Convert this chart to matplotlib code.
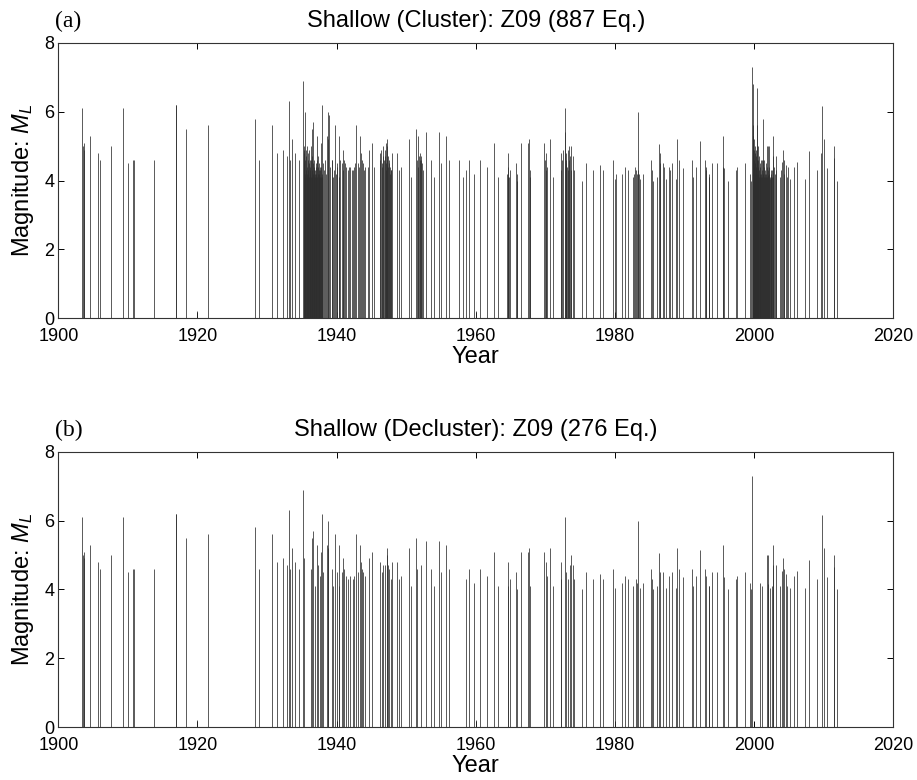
import matplotlib
matplotlib.use('Agg')
import matplotlib.pyplot as plt

plt.rcParams['font.family'] = ['Liberation Sans', 'DejaVu Sans']
plt.rcParams['mathtext.fontset'] = 'custom'
plt.rcParams['mathtext.it'] = 'Liberation Sans:italic'
plt.rcParams['mathtext.rm'] = 'Liberation Sans'

# Declustered catalogue (main shocks): year, magnitude M_L
decl_year = [1903.36, 1903.60, 1903.69, 1903.74, 1904.56, 1905.71, 1906.04, 1907.53, 1909.25, 1910.06,
             1910.78, 1910.88, 1913.75, 1916.87, 1916.97, 1918.31, 1919.89, 1921.56, 1928.22, 1928.89,
             1930.76, 1931.38, 1932.34, 1932.82, 1933.20, 1933.30, 1933.54, 1934.07, 1934.59,
             1935.21, 1935.30, 1936.32, 1936.51, 1936.60, 1936.89, 1937.13, 1937.27, 1937.61, 1937.75,
             1937.85, 1938.09, 1938.62, 1938.71, 1938.81, 1939.29, 1939.43, 1939.77, 1940.01, 1940.29,
             1940.39, 1940.72, 1940.96, 1941.11, 1941.35, 1941.64, 1941.92, 1942.30, 1942.50, 1942.79,
             1943.02, 1943.36, 1943.46, 1943.60, 1943.84, 1944.08, 1944.70, 1945.13, 1946.23, 1946.47,
             1946.71, 1946.95, 1947.19, 1947.29, 1947.43, 1947.57, 1947.77, 1947.91, 1948.63, 1949.01,
             1949.20, 1950.36, 1950.69, 1951.41, 1951.51, 1952.08, 1952.80, 1953.52, 1954.05, 1954.76,
             1955.00, 1955.72, 1956.15, 1958.60, 1958.98, 1959.79, 1959.98, 1960.61, 1961.57, 1962.57,
             1963.15, 1964.59, 1964.68, 1964.92, 1965.78, 1965.97,
             1966.45, 1967.46, 1967.70, 1967.79, 1969.85, 1970.09, 1970.28, 1970.67, 1971.15, 1972.20,
             1972.25, 1972.82, 1972.97, 1973.21, 1973.54, 1973.64, 1973.93, 1974.12, 1975.22, 1975.84,
             1976.85, 1977.85, 1978.33, 1979.77, 1980.06, 1980.97, 1981.50, 1981.93, 1982.65, 1982.98,
             1983.12, 1983.36, 1983.60, 1983.99, 1985.19, 1985.28, 1985.52, 1986.05, 1986.34, 1986.48,
             1986.96, 1987.29, 1987.82, 1988.16, 1988.73, 1988.97, 1989.16, 1989.74, 1991.13, 1991.27,
             1991.70, 1992.28, 1993.00, 1993.09, 1993.48, 1993.58, 1993.91, 1994.72, 1995.49, 1995.63,
             1996.26, 1997.36, 1997.60,
             1998.69, 1999.41, 1999.55, 1999.75, 2000.85, 2001.18, 2001.81, 2001.95, 2002.05, 2002.29,
             2002.53, 2002.67, 2002.77, 2003.10, 2003.72, 2003.96, 2004.20, 2004.35, 2004.54, 2004.68,
             2005.16, 2005.74, 2006.12, 2007.32, 2007.94, 2009.09, 2009.81, 2010.10, 2010.43, 2011.44,
             2011.53, 2011.87]
decl_mag = [6.1, 5.0, 4.9, 5.1, 5.3, 4.8, 4.6, 5.0, 6.1, 4.5,
            4.6, 4.6, 4.6, 6.2, 6.2, 5.5, 0.2, 5.6, 5.8, 4.6,
            5.6, 4.8, 4.9, 4.7, 6.3, 4.6, 5.2, 4.8, 4.6,
            6.9, 4.9, 4.6, 5.5, 5.7, 4.1, 5.3, 4.7, 4.4, 5.1,
            6.2, 4.5, 5.3, 6.0, 5.2, 4.6, 4.1, 5.6, 4.5, 5.3,
            4.1, 4.5, 4.9, 4.6, 4.4, 4.3, 4.4, 4.3, 4.4, 5.6,
            4.5, 5.3, 4.8, 4.6, 4.5, 4.4, 4.9, 5.1, 4.8, 4.5,
            4.7, 4.7, 5.2, 5.0, 4.7, 4.6, 4.3, 4.8, 4.8, 4.3,
            4.4, 5.2, 4.1, 5.5, 4.6, 4.7, 5.4, 4.6, 4.1, 5.4,
            4.5, 5.3, 4.6, 4.3, 4.6, 4.2, 0.2, 4.6, 4.4, 5.1,
            4.1, 4.8, 4.1, 4.3, 4.5, 4.0,
            5.1, 5.1, 5.2, 4.1, 5.1, 4.8, 4.4, 5.2, 4.1, 4.8,
            4.3, 6.1, 4.5, 4.3, 4.7, 5.0, 4.7, 4.3, 4.0, 4.5,
            4.3, 4.45, 4.3, 4.6, 4.05, 4.2, 4.4, 4.3, 4.1, 4.3,
            4.2, 6.0, 4.05, 4.2, 4.6, 4.3, 4.0, 4.1, 5.05, 4.5,
            4.5, 4.05, 4.4, 4.5, 4.05, 5.2, 4.6, 4.35, 4.6, 4.1,
            4.4, 5.15, 4.6, 4.4, 4.1, 4.1, 4.5, 4.5, 5.3, 4.35,
            4.0, 4.3, 4.4,
            4.5, 4.2, 4.0, 7.3, 4.2, 4.1, 5.0, 5.0, 4.15, 4.05,
            4.1, 5.3, 4.7, 4.7, 4.1, 4.55, 4.9, 4.6, 4.45, 4.1,
            4.05, 4.4, 4.55, 4.05, 4.85, 4.3, 6.15, 5.2, 4.35, 4.65,
            5.0, 4.0]

# Clustered events (fore/aftershocks) removed by declustering
aft_year = [1935.24, 1935.27, 1935.32, 1935.36, 1935.40, 1935.45, 1935.48, 1935.52, 1935.56, 1935.60,
            1935.63, 1935.67, 1935.71, 1935.75, 1935.79, 1935.83, 1935.87, 1935.91, 1935.95, 1935.99,
            1936.03, 1936.07, 1936.11, 1936.15, 1936.19, 1936.23, 1936.27, 1936.36, 1936.40, 1936.44,
            1936.48, 1936.55, 1936.64, 1936.68, 1936.72, 1936.76, 1936.80, 1936.84, 1936.93, 1936.97,
            1937.01, 1937.05, 1937.09, 1937.17, 1937.21, 1937.31, 1937.35, 1937.40, 1937.44, 1937.48,
            1937.52, 1937.56, 1937.66, 1937.70, 1937.80, 1937.90, 1937.95,
            1938.20, 1938.35, 1938.50, 1938.85, 1939.05, 1939.35, 1939.65, 1939.90,
            1940.10, 1940.48, 1940.85, 1941.20, 1941.75, 1942.15, 1942.65, 1943.25, 1943.95, 1944.45,
            1945.30,
            1946.30, 1946.40, 1946.55, 1946.62, 1946.80, 1946.88, 1947.02, 1947.08, 1947.14, 1947.24,
            1947.35, 1947.50, 1947.65, 1947.72, 1947.85,
            1951.65, 1951.74, 1951.85, 1951.95, 1952.02, 1952.15, 1952.25, 1952.35,
            1957.59, 1958.21, 1964.50, 1964.63, 1964.75, 1965.85,
            1967.75, 1969.95, 1970.02, 1972.35, 1972.55, 1972.88, 1972.92, 1973.02, 1973.10, 1973.28,
            1973.35, 1973.45, 1973.72, 1980.12, 1982.75, 1982.85, 1983.25, 1983.45, 1986.40, 1987.05,
            1987.90, 1993.05, 1993.55, 1995.55,
            1999.76, 1999.78, 1999.79, 1999.80, 1999.81, 1999.82, 1999.84, 1999.86, 1999.88, 1999.90,
            1999.92, 1999.94, 1999.96, 1999.98, 2000.00, 2000.03, 2000.06, 2000.09, 2000.12, 2000.15,
            2000.18, 2000.21, 2000.24, 2000.27, 2000.30, 2000.33, 2000.37, 2000.40, 2000.44, 2000.47,
            2000.50, 2000.54, 2000.58, 2000.62, 2000.66, 2000.70, 2000.74, 2000.78, 2000.82, 2000.90,
            2000.95, 2001.00, 2001.05, 2001.10, 2001.14, 2001.22, 2001.26, 2001.30, 2001.35, 2001.40,
            2001.45, 2001.50, 2001.55, 2001.60, 2001.65, 2001.70, 2001.75, 2001.86, 2001.90, 2002.00,
            2002.10, 2002.15, 2002.20, 2002.25, 2002.35, 2002.40, 2002.45, 2002.60, 2002.72, 2002.85,
            2003.00, 2003.20,
            2003.85, 2004.28, 2004.80, 2009.57]
aft_mag = [5.0, 4.5, 4.3, 4.8, 4.2, 6.0, 4.6, 4.1, 4.9, 4.3,
           4.7, 4.2, 5.0, 4.4, 4.1, 4.6, 4.3, 4.8, 4.2, 4.5,
           4.1, 4.9, 4.3, 4.6, 4.2, 4.4, 5.0, 4.1, 4.7, 4.3,
           4.1, 4.5, 4.2, 4.4, 4.1, 4.3, 4.6, 4.2, 4.3, 4.1,
           4.5, 4.2, 4.4, 4.1, 4.6, 4.2, 4.4, 4.1, 4.3, 4.5,
           4.2, 4.1, 4.3, 4.1, 4.4, 4.2, 4.1,
           4.3, 4.6, 4.2, 5.9, 4.4, 4.6, 4.3, 4.2,
           4.4, 4.6, 4.3, 4.5, 4.4, 4.3, 4.5, 4.4, 4.3, 4.4,
           4.4,
           4.6, 4.9, 4.4, 5.0, 4.6, 4.9, 4.5, 5.1, 4.3, 4.6,
           4.4, 4.5, 4.2, 4.4, 4.3,
           4.4, 5.3, 4.7, 4.6, 4.8, 4.6, 4.5, 4.3,
           4.6, 4.1, 4.2, 4.4, 4.1, 4.2,
           4.3, 4.6, 4.3, 4.6, 4.9, 5.4, 4.6, 4.8, 4.4, 4.9,
           4.6, 5.0, 4.3, 4.2, 4.2, 4.4, 4.3, 4.2, 4.8, 4.4,
           4.3, 4.3, 4.2, 4.4,
           6.8, 5.3, 4.8, 5.6, 4.5, 5.1, 4.3, 5.3, 4.7, 5.0,
           4.4, 4.9, 4.2, 5.2, 4.6, 4.3, 4.8, 4.1, 4.5, 5.0,
           4.2, 4.7, 4.4, 4.1, 4.9, 4.3, 5.6, 4.2, 4.6, 6.7,
           4.4, 5.0, 4.2, 4.6, 4.1, 4.7, 4.3, 4.5, 4.1, 4.4,
           4.2, 4.6, 4.1, 4.3, 4.6, 5.8, 4.2, 4.6, 4.1, 4.4,
           4.6, 4.2, 4.1, 4.3, 4.1, 4.5, 4.2, 4.1, 4.4, 4.3,
           5.0, 4.2, 4.4, 4.1, 4.3, 4.1, 4.2, 4.3, 4.1, 4.4,
           4.2, 4.3,
           4.3, 4.2, 4.4, 4.8]

clus_year = decl_year + aft_year
clus_mag = decl_mag + aft_mag

panels = [('(a)', 'Shallow (Cluster): Z09 (887 Eq.)', clus_year, clus_mag),
          ('(b)', 'Shallow (Decluster): Z09 (276 Eq.)', decl_year, decl_mag)]

fig = plt.figure(figsize=(9.17, 7.80), dpi=100)
boxes = [[0.0636, 0.5919, 0.9106, 0.3533],
         [0.0636, 0.0676, 0.9106, 0.3533]]

for box, (tag, title, yr, mag) in zip(boxes, panels):
    ax = fig.add_axes(box)
    ax.vlines(yr, 0, mag, colors='#2e2e2e', linewidth=0.55)
    ax.set_xlim(1900, 2020)
    ax.set_ylim(0, 8)
    ax.set_xticks(range(1900, 2021, 20))
    ax.set_yticks([0, 2, 4, 6, 8])
    ax.tick_params(direction='in', length=4, width=0.7, top=True, right=True,
                   labelsize=13)
    ax.tick_params(axis='x', pad=7)
    ax.tick_params(axis='y', pad=3)
    for s in ax.spines.values():
        s.set_linewidth(0.8)
        s.set_color('#333333')
    ax.set_xlabel('Year', fontsize=17)
    ax.xaxis.set_label_coords(0.5, -0.1)
    ax.set_ylabel('Magnitude: $M_L$', fontsize=17)
    ax.yaxis.label.set_va('center')
    ax.yaxis.set_label_coords(-0.042, 0.5)
    ax.text(0.5, 1.078, title, transform=ax.transAxes, ha='center', va='center',
            fontsize=17)
    ax.text(-0.004, 1.078, tag, transform=ax.transAxes, ha='left', va='center',
            fontsize=17, family='Liberation Serif')

plt.savefig('out.png', dpi=100)
